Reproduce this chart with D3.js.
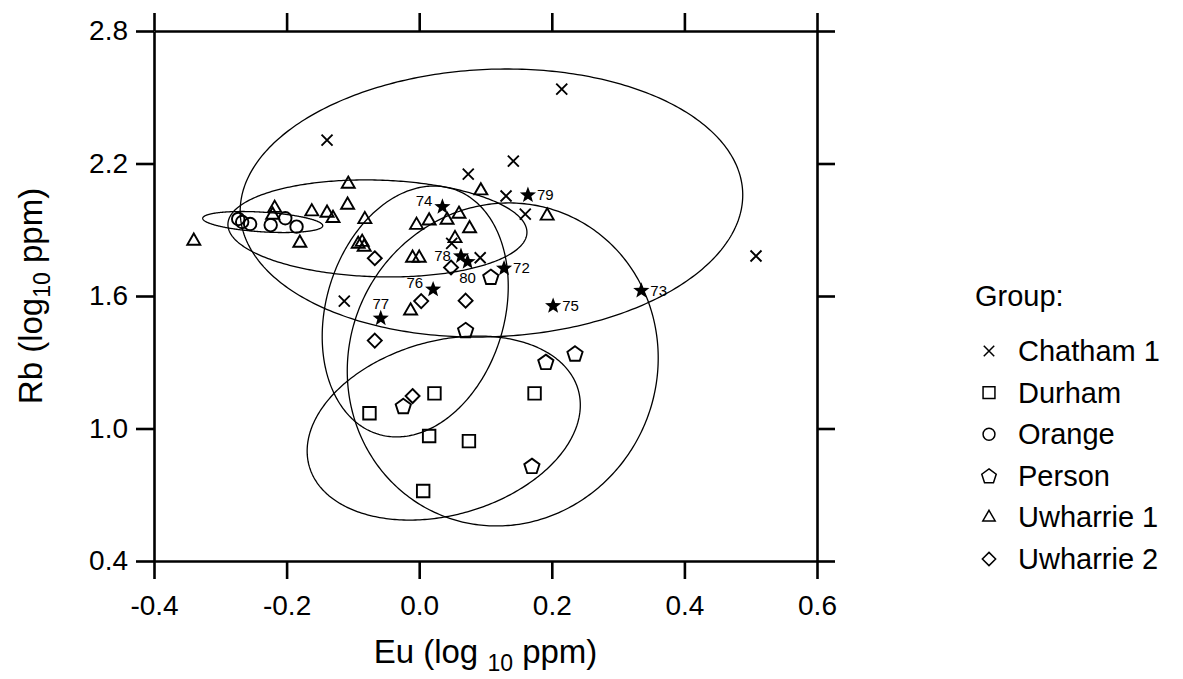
<!DOCTYPE html>
<html>
<head>
<meta charset="utf-8">
<script src="https://cdn.jsdelivr.net/npm/d3@7"></script>
<style>
  body { margin: 0; background: #fff; }
  text { font-family: "Liberation Sans", Arial, sans-serif; fill: #000; }
</style>
</head>
<body>
<div id="chart"></div>
<script>
// axis ticks
const xTicks = [-0.4, -0.2, 0.0, 0.2, 0.4, 0.6];
const yTicks = [0.4, 1.0, 1.6, 2.2, 2.8];

// groups (log10 ppm)
const groupNames = ["Chatham 1", "Durham", "Orange", "Person", "Uwharrie 1", "Uwharrie 2"];

const chathamEu = [-0.139, 0.215, 0.142, 0.074, 0.131, 0.160, 0.508, -0.113, 0.049, 0.092];
const chathamRb = [2.306, 2.537, 2.211, 2.152, 2.053, 1.971, 1.781, 1.577, 1.838, 1.773];

const durhamEu = [0.023, -0.075, 0.015, 0.075, 0.174, 0.006];
const durhamRb = [1.159, 1.069, 0.966, 0.943, 1.159, 0.717];

const orangeEu = [-0.273, -0.267, -0.255, -0.224, -0.202, -0.185];
const orangeRb = [1.949, 1.935, 1.926, 1.921, 1.952, 1.914];

const personEu = [-0.024, 0.070, 0.191, 0.235, 0.170, 0.108];
const personRb = [1.102, 1.446, 1.302, 1.340, 0.831, 1.687];

const uwharrie1Eu = [-0.340, -0.218, -0.221, -0.162, -0.139, -0.130, -0.108, -0.107, -0.082, -0.180,
  -0.092, -0.086, -0.083, -0.010, 0.000, -0.004, 0.015, 0.042, 0.060, 0.076, 0.054, 0.093, 0.193, -0.013];
const uwharrie1Rb = [1.849, 1.998, 1.967, 1.982, 1.976, 1.952, 2.012, 2.107, 1.947, 1.840,
  1.835, 1.844, 1.822, 1.772, 1.772, 1.921, 1.941, 1.944, 1.971, 1.906, 1.861, 2.077, 1.963, 1.533];

const uwharrie2Eu = [-0.067, 0.048, 0.003, 0.070, -0.067, -0.010];
const uwharrie2Rb = [1.771, 1.729, 1.577, 1.579, 1.398, 1.147];

// numbered samples (stars)
const sampleIds = ["72", "73", "74", "75", "76", "77", "78", "79", "80"];
const sampleEu = [0.128, 0.335, 0.035, 0.202, 0.021, -0.058, 0.063, 0.164, 0.073];
const sampleRb = [1.725, 1.624, 2.004, 1.555, 1.630, 1.499, 1.781, 2.057, 1.755];
const sampleLabelSide = ["right", "right", "leftup", "right", "leftup", "up", "left", "right", "down"];

// group ellipses: centre, half extents, correlation
const ellipseCx = [0.109, 0.037, -0.236, 0.126, -0.063, -0.006];
const ellipseCy = [2.021, 1.002, 1.935, 1.290, 1.906, 1.530];
const ellipseSx = [0.379, 0.206, 0.0905, 0.2345, 0.2255, 0.1403];
const ellipseSy = [0.607, 0.4167, 0.0476, 0.7314, 0.2197, 0.568];
const ellipseR  = [0.06, 0.25, -0.35, 0.04, -0.08, 0.2];

const groupEu = [chathamEu, durhamEu, orangeEu, personEu, uwharrie1Eu, uwharrie2Eu];
const groupRb = [chathamRb, durhamRb, orangeRb, personRb, uwharrie1Rb, uwharrie2Rb];

// marker shapes, size = diameter^2
const symTimes = { draw(c, s) { const r = Math.sqrt(s) / 2; c.moveTo(-r, -r); c.lineTo(r, r); c.moveTo(r, -r); c.lineTo(-r, r); } };
const symSquare = { draw(c, s) { const r = Math.sqrt(s) / 2; c.rect(-r, -r, 2 * r, 2 * r); } };
const symCircle = { draw(c, s) { const r = Math.sqrt(s) / 2; c.moveTo(r, 0); c.arc(0, 0, r, 0, 2 * Math.PI); } };
const symPentagon = { draw(c, s) {
  const r = Math.sqrt(s) / 2;
  for (let i = 0; i < 5; i++) {
    const a = -Math.PI / 2 + i * 2 * Math.PI / 5;
    i ? c.lineTo(r * Math.cos(a), r * Math.sin(a) + r * 0.1) : c.moveTo(r * Math.cos(a), r * Math.sin(a) + r * 0.1);
  }
  c.closePath();
} };
const symTriangle = { draw(c, s) {
  const r = Math.sqrt(s) / 2;
  c.moveTo(0, -r); c.lineTo(r * 0.866, r / 2); c.lineTo(-r * 0.866, r / 2); c.closePath();
} };
const symDiamond = { draw(c, s) { const r = Math.sqrt(s) / 2; c.moveTo(0, -r); c.lineTo(r, 0); c.lineTo(0, r); c.lineTo(-r, 0); c.closePath(); } };
const symStar = { draw(c, s) {
  const r = Math.sqrt(s) / 2, ri = r * 0.42;
  for (let i = 0; i < 10; i++) {
    const a = -Math.PI / 2 + i * Math.PI / 5, rr = i % 2 ? ri : r;
    i ? c.lineTo(rr * Math.cos(a), rr * Math.sin(a)) : c.moveTo(rr * Math.cos(a), rr * Math.sin(a));
  }
  c.closePath();
} };

const groupSymbol = [symTimes, symSquare, symCircle, symPentagon, symTriangle, symDiamond];
const groupSize = [11, 12.5, 12.5, 16, 15, 14];

const width = 1183, height = 679;
const svg = d3.select("#chart").append("svg")
    .attr("width", width)
    .attr("height", height);

const x = d3.scaleLinear().domain([-0.4, 0.6]).range([154, 817]);
const y = d3.scaleLinear().domain([0.4, 2.8]).range([561, 31]);
const tick = 18;
const fmt = d => d.toFixed(1);

// ellipses
const line = d3.line().curve(d3.curveLinearClosed);
const ts = d3.range(0, 360, 1).map(d => d * Math.PI / 180);
svg.append("g").selectAll("path")
  .data(groupNames)
  .enter().append("path")
    .attr("d", (g, i) => line(ts.map(t => {
      const r = ellipseR[i];
      const ex = ellipseCx[i] + ellipseSx[i] * Math.cos(t);
      const ey = ellipseCy[i] + ellipseSy[i] * (r * Math.cos(t) + Math.sqrt(1 - r * r) * Math.sin(t));
      return [x(ex), y(ey)];
    })))
    .attr("fill", "none")
    .attr("stroke", "#000")
    .attr("stroke-width", 1.3);

// axes
function styleAxis(g) {
  g.selectAll("path.domain").attr("stroke-width", 2.6);
  g.selectAll(".tick line").attr("stroke-width", 2.6);
  g.selectAll(".tick text").attr("font-size", 28).attr("font-family", '"Liberation Sans", Arial, sans-serif');
}
svg.append("g").attr("transform", `translate(0,${y(0.4)})`)
  .call(d3.axisBottom(x).tickValues(xTicks).tickFormat(fmt).tickSize(tick).tickSizeOuter(0).tickPadding(16))
  .call(styleAxis);
svg.append("g").attr("transform", `translate(0,${y(2.8)})`)
  .call(d3.axisTop(x).tickValues(xTicks).tickFormat("").tickSize(tick).tickSizeOuter(0))
  .call(styleAxis);
svg.append("g").attr("transform", `translate(${x(-0.4)},0)`)
  .call(d3.axisLeft(y).tickValues(yTicks).tickFormat(fmt).tickSize(tick).tickSizeOuter(0).tickPadding(8))
  .call(styleAxis);
svg.append("g").attr("transform", `translate(${x(0.6)},0)`)
  .call(d3.axisRight(y).tickValues(yTicks).tickFormat("").tickSize(tick).tickSizeOuter(0))
  .call(styleAxis);

// group markers
groupNames.forEach((name, gi) => {
  svg.append("g").selectAll("path")
    .data(groupEu[gi].map((eu, j) => ({ eu, rb: groupRb[gi][j] })))
    .enter().append("path")
      .attr("transform", d => `translate(${x(d.eu)},${y(d.rb)})`)
      .attr("d", d3.symbol().type(groupSymbol[gi]).size(groupSize[gi] * groupSize[gi]))
      .attr("fill", "none")
      .attr("stroke", "#000")
      .attr("stroke-width", 1.9);
});

// numbered samples
const samples = sampleIds.map((id, i) => ({ id, eu: sampleEu[i], rb: sampleRb[i], side: sampleLabelSide[i] }));
svg.append("g").selectAll("path")
  .data(samples)
  .enter().append("path")
    .attr("transform", d => `translate(${x(d.eu)},${y(d.rb)})`)
    .attr("d", d3.symbol().type(symStar).size(17 * 17))
    .attr("fill", "#000");

const labelOffset = {
  right: [9, 5, "start"], left: [-10, 5, "end"], leftup: [-10, -1, "end"],
  up: [0, -9, "middle"], down: [0, 21, "middle"]
};
svg.append("g").selectAll("text")
  .data(samples)
  .enter().append("text")
    .attr("x", d => x(d.eu) + labelOffset[d.side][0])
    .attr("y", d => y(d.rb) + labelOffset[d.side][1])
    .attr("text-anchor", d => labelOffset[d.side][2])
    .attr("font-size", 15)
    .text(d => d.id);

// axis titles
const xt = svg.append("text")
  .attr("x", (x(-0.4) + x(0.6)) / 2)
  .attr("y", 663)
  .attr("text-anchor", "middle")
  .attr("font-size", 33);
xt.append("tspan").text("Eu (log ");
xt.append("tspan").attr("font-size", 23).attr("dy", 8).text("10");
xt.append("tspan").attr("dy", -8).text(" ppm)");

const yt = svg.append("text")
  .attr("transform", `translate(42,${(y(0.4) + y(2.8)) / 2}) rotate(-90)`)
  .attr("text-anchor", "middle")
  .attr("font-size", 33);
yt.append("tspan").text("Rb (log");
yt.append("tspan").attr("font-size", 23).attr("dy", 8).text("10");
yt.append("tspan").attr("dy", -8).text(" ppm)");

// legend
const legend = svg.append("g");
legend.append("text").attr("x", 975).attr("y", 306).attr("font-size", 29).text("Group:");
const legItems = legend.selectAll("g.item")
  .data(groupNames)
  .enter().append("g")
    .attr("class", "item")
    .attr("transform", (d, i) => `translate(989,${351 + i * 41.6})`);
legItems.append("path")
  .attr("d", (d, i) => d3.symbol().type(groupSymbol[i]).size(Math.pow(groupSize[i] * 0.95, 2))())
  .attr("fill", "none")
  .attr("stroke", "#000")
  .attr("stroke-width", 1.5);
legItems.append("text")
  .attr("x", 29)
  .attr("y", 10)
  .attr("font-size", 29)
  .text(d => d);
</script>
</body>
</html>
